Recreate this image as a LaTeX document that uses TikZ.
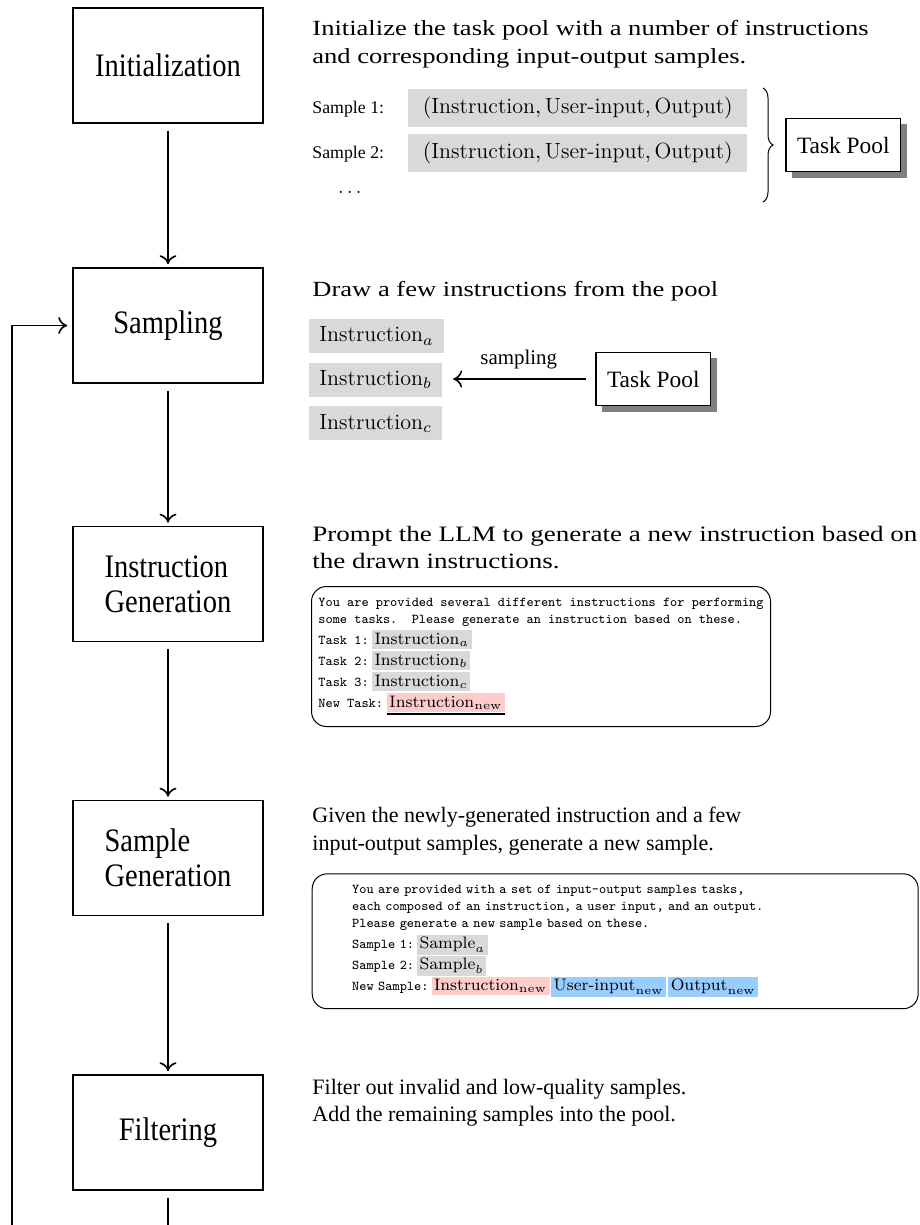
\RequirePackage{fix-cm}
\documentclass[tikz,border=0pt]{standalone}
\usepackage{amsmath}
\usepackage[no-math]{fontspec}
\newfontfamily\descfont[FakeStretch=1.23]{Liberation Serif}
\newfontfamily\stagefont[FakeStretch=0.87]{Liberation Serif}
\newfontfamily\plainfont{Liberation Serif}
\usetikzlibrary{arrows.meta, positioning, shadows, decorations.pathreplacing}
\definecolor{HlGray}{RGB}{217,217,217}
\definecolor{HlPink}{RGB}{255,204,204}
\definecolor{HlBlue}{RGB}{153,204,255}
\definecolor{ShadowGray}{RGB}{128,128,128}

\newsavebox{\hlsave}
\newcommand{\hlbox}[2]{{\setlength{\fboxsep}{1.2pt}%
  \colorbox{#1}{\rmfamily\fontsize{8.3}{10}\selectfont$#2$}}}
\newcommand{\ulhl}[2]{\sbox{\hlsave}{\hlbox{#1}{#2}}%
  \vtop{\copy\hlsave\kern0.6pt\hrule height 1.1pt width \wd\hlsave}}
\newcommand{\promptfont}{\ttfamily\fontsize{6.76}{8.5}\selectfont
  \setlength{\lineskiplimit}{-10pt}}

\begin{document}
\begin{tikzpicture}[x=0.5pt, y=0.5pt,
  stage/.style={draw, line width=0.8pt, minimum width=95pt, minimum height=57.5pt,
                inner sep=0pt, align=left,
                font=\stagefont\fontsize{16.4}{17.5}\selectfont},
  flow/.style={-{Computer Modern Rightarrow[length=4.5pt, width=8.5pt]},
               line width=0.8pt, shorten <=3.5pt, shorten >=1.5pt},
  desc/.style={anchor=base west, align=left, inner sep=0pt,
               font=\descfont\fontsize{10.8}{13.7}\selectfont},
  plaindesc/.style={desc, font=\plainfont\fontsize{11}{13.7}\selectfont},
  pool/.style={draw, line width=0.6pt, fill=white, minimum width=57.3pt,
               minimum height=26.7pt, inner sep=0pt,
               font=\plainfont\fontsize{11.7}{14}\selectfont,
               drop shadow={shadow xshift=3pt, shadow yshift=-3pt,
                            fill=ShadowGray, opacity=1}},
  tuple/.style={fill=HlGray, minimum width=169.5pt, minimum height=18.7pt,
                inner sep=0pt, font=\fontsize{11}{13}\selectfont},
  instr/.style={fill=HlGray, minimum height=17pt, inner xsep=5pt, inner ysep=0pt,
                font=\fontsize{11}{13}\selectfont},
  tag/.style={inner sep=0pt, anchor=base west,
              font=\plainfont\fontsize{8.9}{10}\selectfont},
  prompt/.style={draw, rounded corners=7.5pt, line width=0.5pt, anchor=north west,
                 align=left, inner ysep=5.7pt, font=\promptfont},
]
\useasboundingbox (0,0) rectangle (920,-1225);

% pipeline stages
\node[stage] (init) at (168,-65.5)  {Initialization};
\node[stage] (samp) at (168,-325.5) {Sampling};
\node[stage] (igen) at (168,-584)   {Instruction\\Generation};
\node[stage] (sgen) at (168,-858)   {Sample\\Generation};
\node[stage] (filt) at (168,-1132.5) {Filtering};
\coordinate (loopfoot) at (12,-1225);

\draw[flow] (init) -- (samp);
\draw[flow] (samp) -- (igen);
\draw[flow] (igen) -- (sgen);
\draw[flow] (sgen) -- (filt);
\draw[line width=0.8pt, shorten <=3.5pt] (filt.south) -- (filt.south |- loopfoot);
\draw[flow, shorten <=0pt, shorten >=2.5pt] (loopfoot) |- (samp.west);

% initialization
\node[desc] (initdesc) at (312,-63.1)
  {Initialize the task pool with a number of instructions\\and corresponding input-output samples.};
\node[tuple] (tup1) at (577.8,-108)
  {$(\text{Instruction}, \text{User-input}, \text{Output})$};
\node[tuple] (tup2) at (577.8,-153)
  {$(\text{Instruction}, \text{User-input}, \text{Output})$};
\node[tag] (tag1) at (tup1.base -| initdesc.west) {Sample 1:};
\node[tag] (tag2) at (tup2.base -| initdesc.west) {Sample 2:};
\node[font=\fontsize{10}{12}\selectfont, inner sep=0pt] (dots) at (351.5,-192) {$\dots$};
\draw[decorate, decoration={brace, amplitude=5pt}, line width=0.5pt]
  (763,-88) -- (763,-202);
\node[pool] (pool1) at (843.3,-145) {Task Pool};

% sampling
\node[desc] (sampdesc) at (312,-296) {Draw a few instructions from the pool};
\node[instr, anchor=west] (ia) at (309,-336) {$\text{Instruction}_a$};
\node[instr, below=4.4pt of ia.south west, anchor=north west] (ib) {$\text{Instruction}_b$};
\node[instr, below=4.4pt of ib.south west, anchor=north west] (ic) {$\text{Instruction}_c$};
\node[pool] (pool2) at (653.3,-379) {Task Pool};
\draw[flow, shorten <=4.5pt, shorten >=5.5pt] (pool2.west) -- node[midway, above=4.7pt,
  inner sep=0pt, font=\plainfont\fontsize{10.45}{12}\selectfont] {sampling} (pool2.west -| ib.east);

% instruction generation
\node[desc, font=\descfont\fontsize{11}{13.7}\selectfont] (igendesc) at (312,-568.4)
  {Prompt the LLM to generate a new instruction based on\\the drawn instructions.};
\node[prompt, minimum width=229.5pt] (iprompt) at (311,-586)
  {You are provided several different instructions for performing\\
   some tasks.\ \ Please generate an instruction based on these.\\[2pt]
   Task 1:\hspace{1.7pt}\hlbox{HlGray}{\mathrm{Instruction}_a}\\[2pt]
   Task 2:\hspace{1.7pt}\hlbox{HlGray}{\mathrm{Instruction}_b}\\[2pt]
   Task 3:\hspace{1.7pt}\hlbox{HlGray}{\mathrm{Instruction}_c}\\[2pt]
   New Task:\hspace{2pt}\ulhl{HlPink}{\mathrm{Instruction}_{\mathrm{new}}}};

% sample generation
\node[plaindesc] (sgendesc) at (312,-850)
  {Given the newly-generated instruction and a few\\input-output samples, generate a new sample.};
\node[prompt, text width=263pt, inner xsep=20pt] (sprompt) at (311.7,-873.3)
  {You are provided with a set of input-output samples tasks,\\
   each composed of an instruction, a user input, and an output.\\
   Please generate a new sample based on these.\\[2pt]
   Sample 1:\hspace{1.5pt}\hlbox{HlGray}{\mathrm{Sample}_a}\\[2pt]
   Sample 2:\hspace{1.5pt}\hlbox{HlGray}{\mathrm{Sample}_b}\\[2pt]
   New Sample:\hspace{1.6pt}\hlbox{HlPink}{\mathrm{Instruction}_{\mathrm{new}}}\hspace{0.9pt}%
   \hlbox{HlBlue}{\text{User-input}_{\mathrm{new}}}\hspace{1.1pt}%
   \hlbox{HlBlue}{\mathrm{Output}_{\mathrm{new}}}};

% filtering
\node[plaindesc] (filtdesc) at (312,-1121.4)
  {Filter out invalid and low-quality samples.\\Add the remaining samples into the pool.};
\end{tikzpicture}
\end{document}
